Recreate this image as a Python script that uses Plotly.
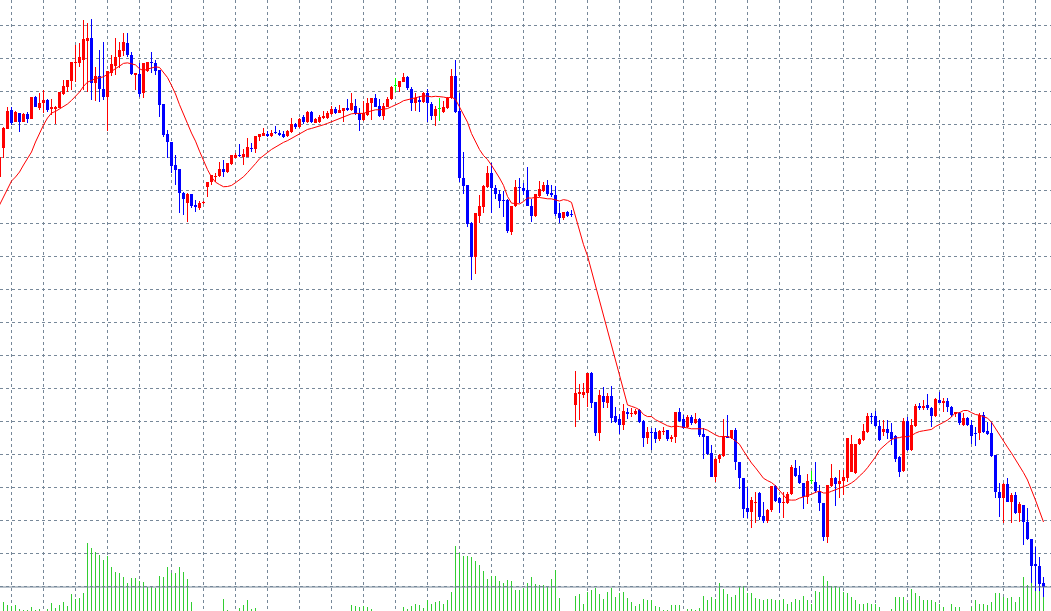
import plotly.graph_objects as go
import pandas as pd

# bar index (-1 is the partly visible bar at the left edge)
bars = list(range(-1, 261))

opens = [
    823, 852, 871, 890, 878, 887, 878, 886, 881, 903,
    892, 897, 900, 891, 891, 892, 906, 913, 919, 937,
    937, 940, 959, 962, 917, 924, 911, 903, 927, 934,
    943, 949, 957, 945, 925, 926, 907, 929, 938, 937,
    930, 896, 866, 858, 835, 831, 807, 797, 806, 795,
    792, 797, 813, 818, 823, 824, 831, 828, 836, 842,
    845, 843, 843, 852, 851, 863, 864, 866, 864, 868,
    867, 866, 864, 868, 876, 873, 883, 878, 888, 877,
    878, 882, 882, 886, 891, 887, 889, 892, 890, 894,
    887, 880, 885, 897, 902, 894, 884, 893, 901, 914,
    913, 918, 923, 911, 897, 900, 898, 907, 896, 884,
    891, 888, 892, 902, 924, 889, 822, 815, 777, 743,
    784, 793, 813, 827, 812, 806, 800, 800, 768, 794,
    813, 812, 810, 794, 784, 804, 809, 815, 807, 805,
    787, 782, 788, 786, 595, 606, 605, 607, 627, 598,
    567, 604, 597, 604, 584, 581, 575, 588, 586, 586,
    590, 579, 562, 568, 568, 561, 568, 570, 561, 563,
    588, 581, 573, 583, 577, 581, 566, 564, 547, 523,
    541, 544, 564, 562, 570, 538, 522, 492, 488, 497,
    507, 484, 479, 490, 514, 502, 497, 497, 506, 532,
    525, 517, 503, 519, 518, 509, 497, 463, 514, 522,
    516, 519, 522, 528, 527, 556, 560, 568, 584, 584,
    574, 568, 571, 568, 564, 543, 529, 579, 550, 574,
    594, 592, 595, 592, 584, 600, 597, 599, 593, 586,
    587, 575, 582, 575, 567, 567, 585, 569, 567, 545,
    508, 502, 516, 498, 505, 487, 495, 478, 461, 436,
    434, 417,
]

highs = [
    845, 873, 893, 893, 889, 887, 887, 888, 903, 904,
    907, 910, 901, 901, 894, 908, 920, 920, 938, 955,
    957, 980, 977, 981, 933, 950, 958, 929, 945, 962,
    958, 967, 967, 948, 927, 937, 937, 938, 948, 940,
    930, 896, 870, 858, 845, 831, 808, 807, 806, 800,
    799, 799, 818, 825, 827, 838, 840, 837, 845, 847,
    856, 851, 862, 857, 864, 866, 872, 869, 870, 874,
    870, 869, 870, 882, 877, 882, 885, 889, 889, 882,
    885, 889, 889, 894, 893, 895, 892, 901, 907, 901,
    892, 899, 902, 902, 906, 901, 897, 903, 914, 922,
    919, 927, 924, 913, 907, 904, 908, 911, 898, 894,
    902, 899, 903, 931, 940, 907, 848, 815, 778, 787,
    805, 815, 834, 837, 815, 810, 809, 801, 794, 820,
    822, 817, 833, 801, 806, 819, 818, 820, 815, 814,
    797, 788, 789, 790, 629, 616, 617, 627, 628, 598,
    610, 613, 607, 614, 593, 586, 596, 592, 592, 591,
    591, 580, 573, 572, 572, 570, 573, 570, 565, 588,
    592, 585, 585, 585, 587, 582, 572, 564, 555, 542,
    546, 581, 585, 570, 572, 538, 522, 513, 503, 508,
    508, 498, 491, 514, 515, 503, 508, 508, 535, 540,
    534, 517, 526, 529, 538, 515, 497, 515, 536, 523,
    530, 530, 562, 565, 556, 562, 576, 587, 587, 589,
    580, 580, 580, 577, 565, 544, 582, 583, 581, 596,
    597, 600, 606, 593, 602, 608, 602, 602, 594, 588,
    588, 587, 583, 580, 573, 587, 588, 578, 578, 545,
    517, 517, 522, 507, 508, 498, 495, 492, 461, 453,
    443, 423,
]

lows = [
    820, 842, 871, 875, 878, 868, 878, 877, 881, 893,
    890, 887, 888, 885, 876, 892, 905, 908, 910, 918,
    933, 910, 908, 900, 899, 898, 900, 869, 924, 925,
    932, 944, 943, 925, 910, 903, 902, 928, 927, 925,
    883, 863, 842, 827, 815, 787, 785, 778, 792, 788,
    790, 796, 803, 815, 818, 823, 823, 827, 835, 842,
    843, 835, 843, 848, 847, 859, 864, 863, 863, 866,
    864, 862, 863, 867, 871, 872, 876, 877, 877, 877,
    877, 881, 881, 885, 886, 887, 878, 889, 889, 885,
    869, 879, 884, 880, 893, 883, 880, 893, 900, 908,
    908, 918, 910, 889, 889, 888, 897, 878, 880, 874,
    879, 887, 891, 901, 887, 818, 806, 773, 720, 726,
    777, 787, 812, 787, 801, 792, 783, 767, 765, 793,
    797, 805, 794, 778, 783, 803, 808, 804, 803, 784,
    777, 780, 783, 783, 573, 580, 602, 593, 592, 564,
    559, 592, 592, 577, 577, 566, 570, 581, 583, 585,
    577, 553, 556, 550, 557, 559, 565, 559, 558, 557,
    578, 571, 572, 575, 576, 563, 541, 545, 523, 518,
    537, 543, 562, 561, 530, 511, 482, 482, 472, 477,
    480, 477, 477, 488, 498, 487, 482, 496, 505, 523,
    516, 491, 496, 516, 507, 489, 459, 457, 513, 494,
    502, 505, 518, 528, 526, 555, 559, 567, 576, 573,
    559, 564, 561, 555, 538, 523, 528, 549, 549, 573,
    590, 590, 590, 573, 583, 597, 588, 588, 583, 583,
    575, 574, 574, 556, 554, 560, 567, 565, 543, 502,
    483, 477, 498, 477, 486, 478, 455, 460, 409, 409,
    409, 393,
]

closes = [
    843, 872, 889, 877, 888, 878, 886, 881, 903, 893,
    897, 900, 890, 893, 893, 908, 914, 920, 938, 938,
    943, 961, 962, 917, 924, 911, 903, 929, 936, 943,
    950, 958, 945, 926, 927, 906, 937, 938, 937, 929,
    895, 865, 858, 834, 830, 807, 801, 806, 794, 793,
    797, 798, 818, 825, 824, 831, 828, 837, 845, 845,
    844, 846, 853, 851, 864, 866, 867, 864, 867, 867,
    865, 863, 869, 876, 873, 881, 878, 888, 878, 881,
    883, 884, 887, 891, 887, 890, 892, 890, 897, 886,
    880, 887, 897, 902, 893, 884, 894, 901, 913, 914,
    919, 923, 912, 897, 902, 898, 907, 897, 884, 891,
    891, 893, 902, 924, 888, 822, 814, 776, 743, 787,
    794, 814, 827, 812, 806, 799, 799, 769, 794, 813,
    812, 809, 794, 784, 806, 811, 815, 806, 805, 786,
    782, 788, 784, 785, 607, 608, 608, 627, 597, 567,
    605, 598, 604, 582, 578, 575, 589, 586, 587, 589,
    578, 562, 568, 567, 561, 569, 569, 561, 563, 588,
    579, 572, 583, 577, 581, 565, 563, 546, 523, 541,
    545, 564, 562, 570, 538, 522, 491, 488, 500, 498,
    483, 479, 490, 514, 499, 497, 498, 506, 533, 524,
    517, 503, 519, 519, 509, 497, 463, 515, 522, 516,
    519, 523, 562, 556, 556, 561, 569, 584, 583, 574,
    560, 571, 567, 561, 541, 528, 579, 550, 575, 594,
    592, 594, 592, 584, 601, 597, 599, 593, 585, 588,
    577, 582, 575, 564, 566, 585, 568, 566, 544, 508,
    502, 516, 498, 505, 487, 496, 478, 461, 434, 434,
    416, 413,
]

volumes = [
    5, 9, 6, 5, 6, 2, 1, 1, 4, 1,
    2, 0, 2, 8, 3, 6, 9, 5, 17, 12,
    13, 18, 68, 63, 59, 56, 51, 55, 44, 39,
    38, 34, 28, 33, 33, 30, 29, 24, 24, 23,
    35, 34, 44, 38, 38, 44, 39, 32, 9, 0,
    0, 0, 0, 0, 0, 0, 12, 1, 0, 0,
    3, 6, 11, 2, 3, 0, 0, 0, 0, 0,
    0, 0, 0, 0, 0, 0, 0, 0, 0, 0,
    0, 0, 0, 0, 0, 0, 0, 0, 6, 5,
    4, 5, 4, 2, 0, 0, 0, 0, 0, 0,
    0, 4, 2, 5, 7, 6, 3, 11, 7, 9,
    10, 7, 11, 19, 65, 58, 55, 55, 54, 50,
    46, 40, 32, 35, 35, 30, 28, 31, 30, 21,
    21, 23, 28, 34, 27, 26, 26, 24, 32, 41,
    13, 0, 0, 0, 15, 17, 7, 19, 21, 23,
    17, 12, 19, 23, 14, 18, 19, 13, 9, 5,
    7, 12, 11, 11, 5, 4, 1, 1, 6, 6,
    6, 0, 2, 2, 1, 3, 15, 11, 14, 12,
    28, 22, 17, 14, 16, 24, 25, 18, 18, 13,
    12, 11, 12, 12, 11, 11, 12, 7, 9, 12,
    11, 15, 11, 7, 20, 19, 35, 30, 25, 25,
    24, 19, 18, 14, 11, 7, 7, 8, 7, 7,
    4, 0, 0, 2, 14, 14, 14, 8, 22, 18,
    15, 11, 11, 11, 9, 7, 4, 0, 7, 4,
    4, 0, 0, 4, 11, 7, 7, 6, 9, 18,
    18, 14, 13, 14, 9, 14, 34, 26, 28, 20,
    20, 14,
]

# moving average values for the first bars (before a full window exists)
ma_period = 14
ma_head = [795, 803, 812, 819, 823, 828, 835, 841, 848, 858, 867, 875, 882, 887]

BULL = "#FF0000"
BEAR = "#0000FF"
DOJI = "#00FF00"
VOL = "#32CD32"
GRID = "#778899"

ma = pd.Series(closes, dtype=float).rolling(ma_period).mean().tolist()
ma[:len(ma_head)] = ma_head

colors = []
for o, c in zip(opens, closes):
    colors.append(BULL if c > o else (BEAR if c < o else DOJI))

body_base = [min(o, c) for o, c in zip(opens, closes)]
body_len = [max(abs(c - o), 1) for o, c in zip(opens, closes)]
wick_len = [h - l for h, l in zip(highs, lows)]

fig = go.Figure()

fig.add_trace(go.Bar(x=bars, y=volumes, width=0.25, marker_color=VOL,
                     marker_line_width=0, yaxis="y2", hoverinfo="skip"))
fig.add_trace(go.Bar(x=bars, y=wick_len, base=lows, width=0.25, marker_color=colors,
                     marker_line_width=0, hoverinfo="skip"))
fig.add_trace(go.Bar(x=bars, y=body_len, base=body_base, width=0.75, marker_color=colors,
                     marker_line_width=0, hoverinfo="skip"))
fig.add_trace(go.Scatter(x=bars, y=ma, mode="lines", line=dict(color="#FF0000", width=1),
                         hoverinfo="skip"))

fig.add_shape(type="line", xref="paper", x0=0, x1=1, yref="y", y0=closes[-1], y1=closes[-1],
              line=dict(color=GRID, width=1))

fig.update_layout(
    width=1051, height=611,
    margin=dict(l=0, r=0, t=0, b=0),
    paper_bgcolor="white", plot_bgcolor="white",
    showlegend=False, barmode="overlay",
    xaxis=dict(range=[-0.875, 261.875], showgrid=True, gridcolor=GRID, griddash="3px,3px",
               gridwidth=1, tick0=2, dtick=8, showticklabels=False, zeroline=False,
               showline=False, ticks=""),
    yaxis=dict(range=[389, 1000], showgrid=True, gridcolor=GRID, griddash="3px,3px",
               gridwidth=1, tick0=975, dtick=33, showticklabels=False, zeroline=False,
               showline=False, ticks=""),
    yaxis2=dict(overlaying="y", range=[0, 611], visible=False),
)

fig.write_html("out.html", config={"displayModeBar": False},
               post_script="document.body.style.margin='0';document.body.style.overflow='hidden';")
